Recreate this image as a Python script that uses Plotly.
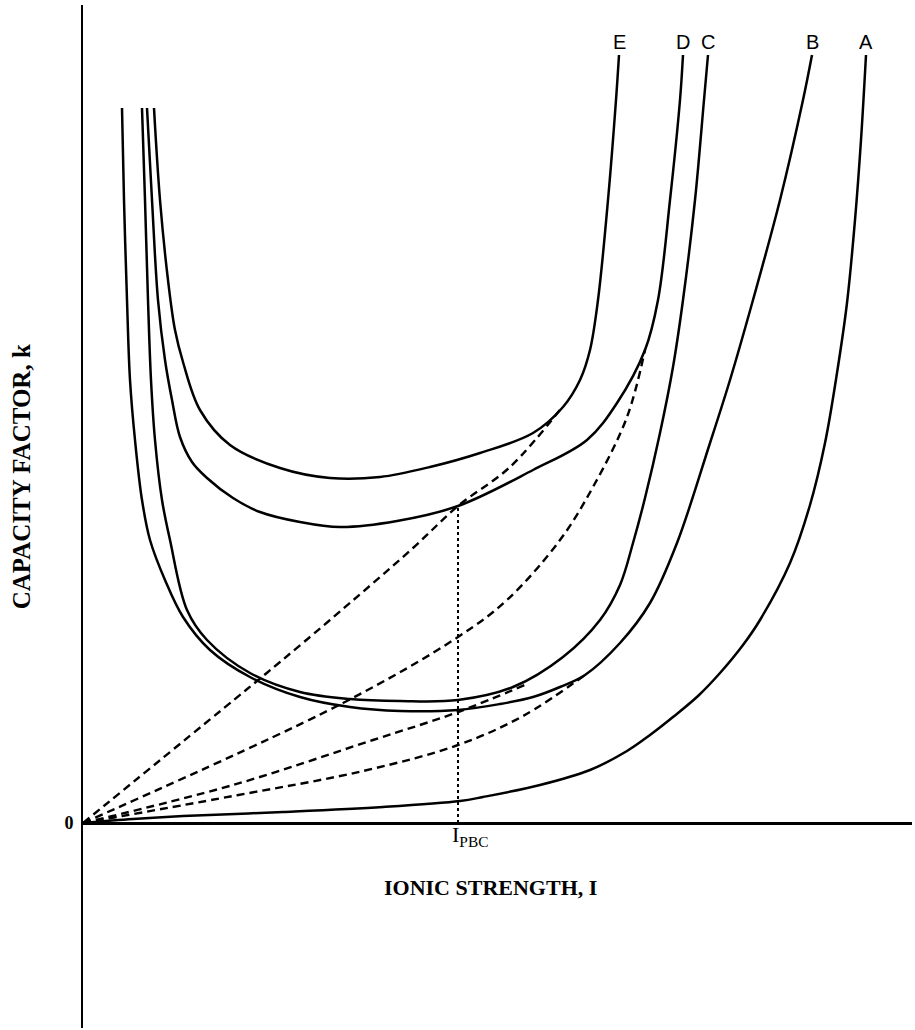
import plotly.graph_objects as go

# Capacity factor k versus ionic strength I (arbitrary units), one list pair per curve
a_I = [0.00, 0.50, 1.00, 2.00, 3.00, 3.77, 4.00, 4.57, 5.07, 5.44, 5.67, 5.90, 6.15, 6.37, 6.60, 6.77, 7.07, 7.27, 7.42, 7.54, 7.64, 7.72, 7.78, 7.83]
a_k = [0.00, 0.04, 0.07, 0.11, 0.16, 0.22, 0.26, 0.38, 0.53, 0.72, 0.88, 1.06, 1.27, 1.50, 1.78, 2.03, 2.60, 3.18, 3.80, 4.50, 5.20, 6.03, 6.83, 7.68]

b_I = [0.39, 0.41, 0.44, 0.47, 0.52, 0.59, 0.67, 0.82, 1.00, 1.27, 1.67, 2.17, 2.67, 3.17, 3.75, 4.17, 4.50, 4.77, 5.02, 5.37, 5.67, 5.94, 6.27, 6.47, 6.70, 6.97, 7.20, 7.29]
b_k = [7.15, 6.23, 5.23, 4.43, 3.83, 3.23, 2.83, 2.43, 2.06, 1.73, 1.46, 1.26, 1.16, 1.12, 1.13, 1.19, 1.26, 1.36, 1.48, 1.80, 2.20, 2.80, 3.80, 4.43, 5.23, 6.23, 7.23, 7.68]

c_I = [0.59, 0.62, 0.65, 0.68, 0.72, 0.79, 0.87, 1.04, 1.24, 1.67, 2.17, 2.67, 3.17, 3.75, 4.30, 4.80, 5.17, 5.37, 5.50, 5.62, 5.77, 5.90, 6.00, 6.12, 6.21, 6.25]
c_k = [7.15, 6.23, 5.23, 4.43, 3.83, 3.23, 2.83, 2.13, 1.83, 1.50, 1.31, 1.24, 1.22, 1.23, 1.36, 1.66, 2.03, 2.38, 2.80, 3.25, 3.90, 4.56, 5.23, 6.23, 7.23, 7.68]

d_I = [0.64, 0.69, 0.75, 0.82, 0.89, 0.97, 1.09, 1.24, 1.50, 1.77, 2.17, 2.57, 3.14, 3.75, 4.50, 5.04, 5.34, 5.62, 5.75, 5.87, 5.97, 6.00]
d_k = [7.15, 6.23, 5.23, 4.63, 4.23, 3.86, 3.61, 3.45, 3.25, 3.11, 3.01, 2.96, 3.02, 3.17, 3.53, 3.83, 4.20, 4.73, 5.23, 6.23, 7.23, 7.68]

e_I = [0.71, 0.77, 0.85, 0.92, 1.00, 1.17, 1.47, 1.97, 2.47, 2.97, 3.47, 3.97, 4.50, 4.80, 4.97, 5.07, 5.15, 5.25, 5.33, 5.36]
e_k = [7.15, 6.23, 5.43, 4.93, 4.61, 4.13, 3.78, 3.55, 3.45, 3.46, 3.56, 3.70, 3.90, 4.16, 4.43, 4.73, 5.23, 6.23, 7.23, 7.68]

curve_names = ["A", "B", "C", "D", "E"]

# Dashed loci from the origin to each curve
l1_I = [0.00, 1.63, 1.97, 2.47, 3.30, 3.75, 4.27, 4.80]
l1_k = [0.00, 1.33, 1.61, 2.03, 2.75, 3.17, 3.56, 4.17]
l2_I = [0.00, 2.60, 3.75, 4.24, 4.77, 5.10, 5.44, 5.62]
l2_k = [0.00, 1.20, 1.86, 2.23, 2.83, 3.36, 4.06, 4.73]
l3_I = [0.00, 1.50, 2.90, 3.75, 4.44]
l3_k = [0.00, 0.38, 0.83, 1.11, 1.39]
l4_I = [0.00, 1.50, 2.80, 3.75, 4.40, 5.02]
l4_k = [0.00, 0.27, 0.52, 0.78, 1.07, 1.48]

# Ionic strength at the point of common intersection
i_pbc = 3.75
k_pbc = 3.17

x_range = [0.0, 8.29]
y_range = [-2.05, 8.18]

serif = "Liberation Serif, Times New Roman, serif"
sans = "Liberation Sans, Arial, sans-serif"

fig = go.Figure()

curves = [(a_I, a_k), (b_I, b_k), (c_I, c_k), (d_I, d_k), (e_I, e_k)]
for (xs, ys), name in zip(curves, curve_names):
    fig.add_trace(go.Scatter(
        x=xs, y=ys, mode="lines", name=name,
        line=dict(color="black", width=2.5, shape="spline", smoothing=1.0),
        hoverinfo="skip", showlegend=False,
    ))
    fig.add_annotation(
        x=xs[-1], y=ys[-1], text=name, showarrow=False,
        yanchor="bottom", yshift=0,
        font=dict(family=sans, size=20, color="black"),
    )

for xs, ys in [(l1_I, l1_k), (l2_I, l2_k), (l3_I, l3_k), (l4_I, l4_k)]:
    fig.add_trace(go.Scatter(
        x=xs, y=ys, mode="lines",
        line=dict(color="black", width=2.4, dash="8px,5px", shape="spline", smoothing=1.0),
        hoverinfo="skip", showlegend=False,
    ))

# Vertical dotted drop line at I_PBC
fig.add_trace(go.Scatter(
    x=[i_pbc, i_pbc], y=[0, k_pbc], mode="lines",
    line=dict(color="black", width=2, dash="3px,3px"),
    hoverinfo="skip", showlegend=False,
))

fig.add_annotation(
    x=i_pbc, y=0, text="I<sub>PBC</sub>", showarrow=False,
    xanchor="left", yanchor="top", xshift=-8, yshift=3,
    font=dict(family=serif, size=22, color="black"),
)
fig.add_annotation(
    x=4.07, y=-0.64, text="<b>IONIC STRENGTH, I</b>", showarrow=False,
    font=dict(family=serif, size=22, color="black"),
)
fig.add_annotation(
    xref="paper", yref="y", x=-0.0745, y=3.46, xanchor="center",
    text="<b>CAPACITY FACTOR, k</b>",
    showarrow=False, textangle=-90,
    font=dict(family=serif, size=25, color="black"),
)

fig.update_layout(
    width=915, height=1030,
    margin=dict(l=83, r=3, t=5, b=2),
    paper_bgcolor="white", plot_bgcolor="white",
    xaxis=dict(range=x_range, showgrid=False, zeroline=False, showticklabels=False,
               ticks="", showline=False),
    yaxis=dict(range=y_range, showgrid=False, showline=True, linecolor="black", linewidth=2,
               zeroline=True, zerolinecolor="black", zerolinewidth=2.5,
               tickmode="array", tickvals=[0], ticktext=["<b>0</b>"], ticks="",
               ticklabelstandoff=4,
               tickfont=dict(family=serif, size=18, color="black")),
)

fig.write_html("out.html")
